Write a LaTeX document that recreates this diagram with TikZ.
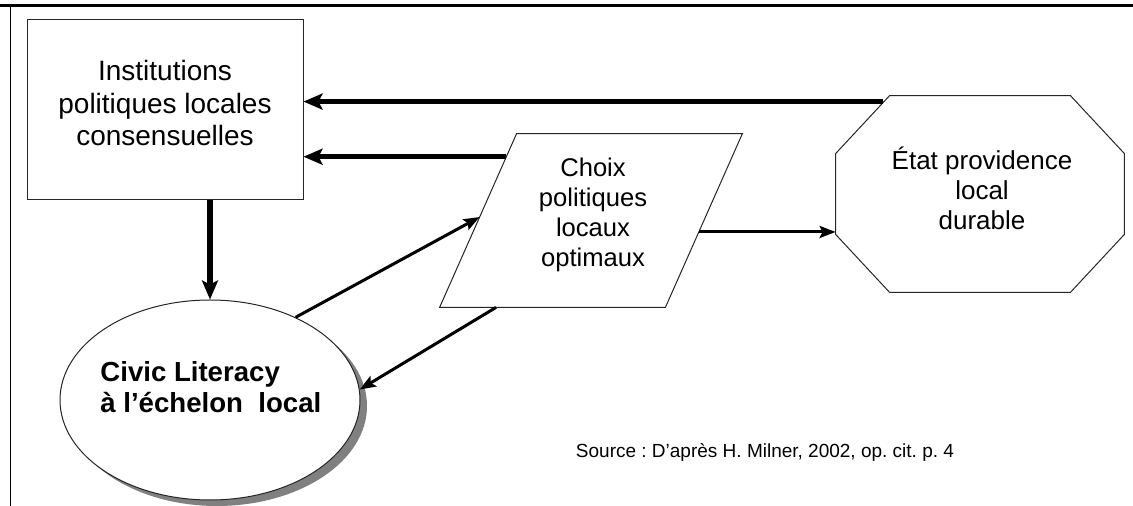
\documentclass[tikz,border=0pt]{standalone}
\usepackage{fontspec}
\setmainfont{Liberation Sans}
\usetikzlibrary{arrows.meta, shapes.geometric, shadows, calc, positioning}
\frenchspacing

\begin{document}
\begin{tikzpicture}[x=0.5pt, y=-0.5pt, >={Stealth[length=9.5pt, width=8pt, inset=2pt]},
  shape line/.style={draw=black!85, line width=0.5pt, fill=white, inner sep=0pt},
  thick arrow/.style={->, line width=2.6pt},
  thin arrow/.style={-{Stealth[length=8pt, width=6pt, inset=1.5pt]}, line width=1.5pt},
  label text/.style={align=center, inner sep=0pt}]

\useasboundingbox (0,0) rectangle (1133,506);
% frame
\draw[line width=1.4pt] (0,5.5) -- (1133,5.5);
\draw[line width=0.8pt] (10.5,5.5) -- (10.5,506);

\node[shape line, rectangle, minimum width=138pt, minimum height=90pt] (inst) at (165,110) {};
% parallelogram
\node[minimum width=151pt, minimum height=86.5pt, inner sep=0pt] (choix) at (591,220.5) {};
\coordinate (choixTL) at ([xshift=38.5pt]choix.north west);
\coordinate (choixTR) at (choix.north east);
\coordinate (choixBR) at ([xshift=-38.5pt]choix.south east);
\coordinate (choixBL) at (choix.south west);
\draw[shape line] (choixTL) -- (choixTR) -- (choixBR) -- (choixBL) -- cycle;
% octagon
\node[minimum width=144pt, minimum height=98pt, inner sep=0pt] (etat) at (980,194) {};
\draw[shape line] ([xshift=27pt]etat.north west) -- ([xshift=-27pt]etat.north east) -- ([yshift=-29pt]etat.north east)
  -- ([yshift=29pt]etat.south east) -- ([xshift=-27pt]etat.south east) -- ([xshift=27pt]etat.south west)
  -- ([yshift=29pt]etat.south west) -- ([yshift=-29pt]etat.north west) -- cycle;
\node[shape line, ellipse, minimum width=150pt, minimum height=100pt, drop shadow={shadow xshift=3.5pt, shadow yshift=-3pt, fill=black!50, opacity=1}] (civic) at (210,400) {};

\node[label text, font=\fontsize{14}{16.2}\selectfont] (instT) at (165,103) {Institutions\\politiques locales\\consensuelles};
\node[label text, font=\fontsize{12.8}{15}\selectfont] (choixT) at (593,215) {Choix\\politiques\\locaux\\optimaux};
\node[label text, font=\fontsize{13}{15}\selectfont] (etatT) at (982,188) {État providence\\local\\durable};
\node[label text, align=left, anchor=west, font=\bfseries\fontsize{13.8}{15.5}\selectfont] (civicT) at (100,387) {Civic Literacy\\à l’échelon\ \ local};
\node[inner sep=0pt, font=\fontsize{9.5}{12}\selectfont] (source) at (765,452) {Source : D’après H. Milner, 2002, op. cit. p. 4};

% connectors
\coordinate (etatOut) at ([xshift=23.5pt, yshift=-3pt]etat.north west);
\coordinate (choixOutL) at ($(choixBL)!0.867!(choixTL)$);
\coordinate (choixInL) at ($(choixBL)!0.52!(choixTL)$);
\coordinate (choixOutR) at ($(choixBR)!0.434!(choixTR)$);
\coordinate (choixOutB) at ($(choixBL)!0.25!(choixBR)$);

\draw[thick arrow] (etatOut) -- (etatOut -| inst.east);
\draw[thick arrow] (choixOutL) -- (choixOutL -| inst.east);
\draw[thick arrow] (civic.north |- inst.south) -- (civic.north);
\draw[thin arrow] (civic.44) -- (choixInL);
\draw[thin arrow] (choixOutB) -- (civic.4);
\draw[thin arrow] (choixOutR) -- (choixOutR -| etat.west);

\end{tikzpicture}
\end{document}
